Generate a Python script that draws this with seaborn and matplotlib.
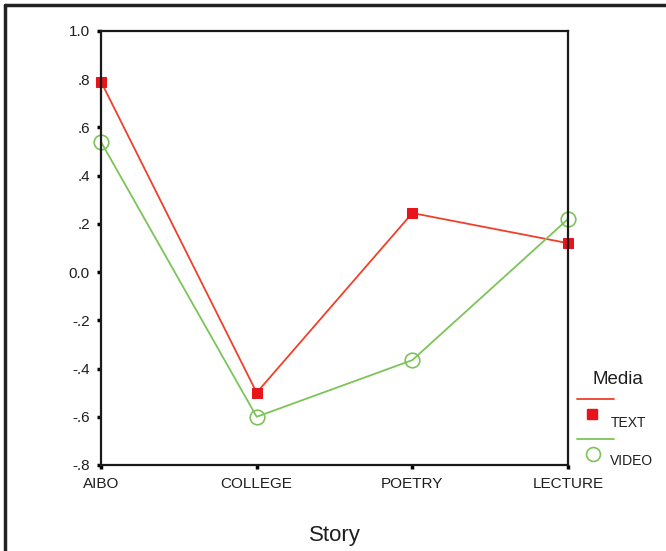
import matplotlib
matplotlib.use("Agg")
import matplotlib.pyplot as plt
import seaborn as sns
import pandas as pd
from matplotlib.lines import Line2D

stories = ["AIBO", "COLLEGE", "POETRY", "LECTURE"]
text_vals = [0.79, -0.50, 0.245, 0.12]
video_vals = [0.54, -0.60, -0.365, 0.22]
y_ticks = [1.0, 0.8, 0.6, 0.4, 0.2, 0.0, -0.2, -0.4, -0.6, -0.8]
y_labels = ["1.0", ".8", ".6", ".4", ".2", "0.0", "-.2", "-.4", "-.6", "-.8"]

RED = "#f0402a"
RED_M = "#e8141c"
GREEN = "#7cc45a"

sns.set_style("white")
plt.rcParams["font.family"] = ["Liberation Sans", "DejaVu Sans"]

W, H = 666, 551
fig = plt.figure(figsize=(W / 100, H / 100), dpi=100)
ax = fig.add_axes([101 / W, 1 - 465 / H, 467 / W, 434 / H])

df_text = pd.DataFrame({"Story": stories, "value": text_vals})
df_video = pd.DataFrame({"Story": stories, "value": video_vals})

sns.lineplot(data=df_text, x="Story", y="value", ax=ax, color=RED, lw=1.3,
             marker="s", markersize=7, markerfacecolor=RED_M,
             markeredgecolor=RED_M, clip_on=False, sort=False)
sns.lineplot(data=df_video, x="Story", y="value", ax=ax, color=GREEN, lw=1.3,
             marker="o", markersize=10.5, markerfacecolor="none",
             markeredgecolor=GREEN, markeredgewidth=1.2, clip_on=False, sort=False)

ax.set_xlim(0, 3)
ax.set_ylim(-0.8, 1.0)
ax.set_yticks(y_ticks)
ax.set_yticklabels(y_labels)
ax.set_xticks(range(len(stories)))
ax.set_xticklabels(stories)
ax.tick_params(axis="both", direction="out", length=3, width=2.5, color="black",
               labelsize=11, labelcolor="#1e1e1e", left=True, bottom=True)
ax.tick_params(axis="y", pad=5)
ax.tick_params(axis="x", pad=6)
ax.set_ylabel("")
ax.set_xlabel("Story", fontsize=16, color="#1e1e1e", labelpad=24)
for s in ax.spines.values():
    s.set_color("#1a1a1a")
    s.set_linewidth(1.6)

# outer frame (left and top edges)
fig.add_artist(Line2D([5 / W, 5 / W], [0, 1 - 5 / H], color="#222222", lw=2.5,
                      transform=fig.transFigure))
fig.add_artist(Line2D([5 / W, 1], [1 - 5 / H, 1 - 5 / H], color="#222222", lw=2.5,
                      transform=fig.transFigure))

# legend (drawn manually in figure coordinates)
def fx(x):
    return x / W

def fy(y):
    return 1 - y / H

fig.text(fx(618), fy(379), "Media", fontsize=13.5, ha="center", va="center", color="#1e1e1e")
fig.add_artist(Line2D([fx(577), fx(614)], [fy(399), fy(399)], color=RED, lw=1.3,
                      transform=fig.transFigure))
fig.add_artist(Line2D([fx(592)], [fy(414)], marker="s", markersize=7, color=RED_M,
                      lw=0, transform=fig.transFigure))
fig.text(fx(611), fy(423), "TEXT", fontsize=10, ha="left", va="center", color="#1e1e1e")
fig.add_artist(Line2D([fx(577), fx(614)], [fy(439), fy(439)], color=GREEN, lw=1.3,
                      transform=fig.transFigure))
fig.add_artist(Line2D([fx(593)], [fy(454)], marker="o", markersize=10,
                      markerfacecolor="none", markeredgecolor=GREEN,
                      markeredgewidth=1.2, lw=0, transform=fig.transFigure))
fig.text(fx(610), fy(461), "VIDEO", fontsize=10, ha="left", va="center", color="#1e1e1e")

fig.savefig("out.png", dpi=100)
